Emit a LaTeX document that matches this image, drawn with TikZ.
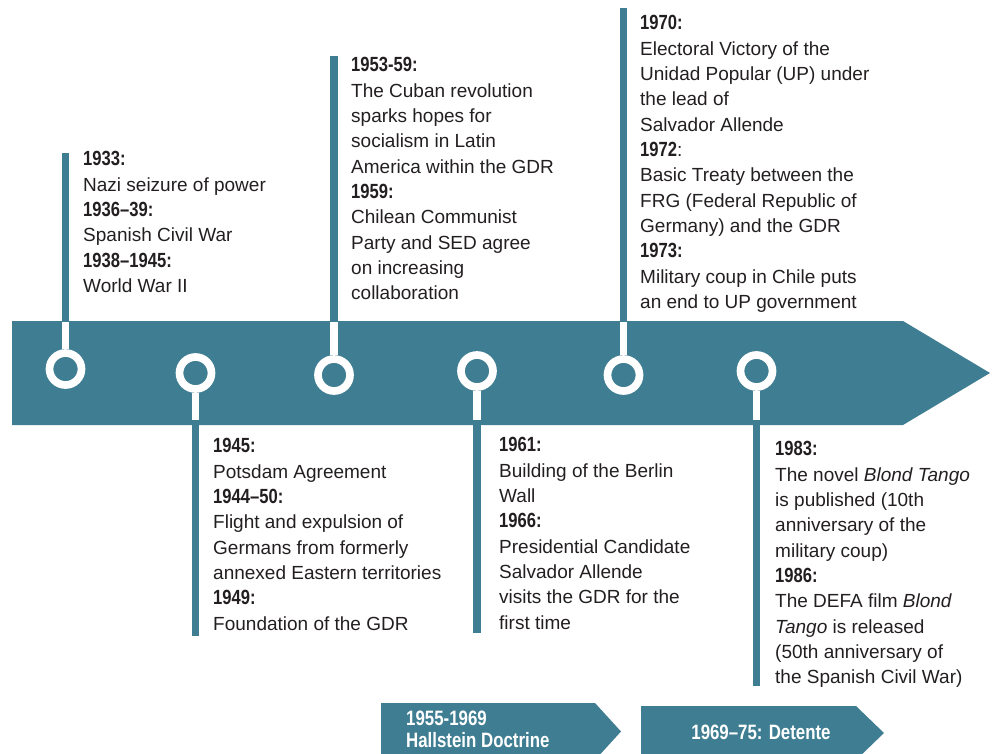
\documentclass[tikz,border=0pt]{standalone}
\usepackage{fontspec}
\setmainfont{Liberation Sans}[BoldFeatures={FakeStretch=0.81}]
\definecolor{teal1}{RGB}{63,126,146}
\definecolor{ink}{RGB}{35,31,32}
\newcommand\yr[1]{{\fontsize{20.5}{25.35}\selectfont\bfseries #1}}
\begin{document}
\begin{tikzpicture}[x=1pt,y=-1pt,
  txt/.style={anchor=north west, inner sep=0pt, align=left, text=ink, font=\fontsize{19}{25.35}\selectfont},
  wtxt/.style={inner sep=0pt, align=left, text=white, font=\bfseries\fontsize{20.8}{22}\selectfont},
  stem/.style={draw=teal1, line width=7.5pt},
  wstem/.style={draw=white, line width=7.5pt},
  ring/.style={circle, draw=white, line width=7.7pt, minimum size=32pt, inner sep=0pt},
  band/.style={fill=teal1}
]
\useasboundingbox (0,0) rectangle (996,754);
\clip (0,0) rectangle (996,754);

% main band
\fill[band] (12,321) -- (903,321) -- (990,373) -- (903,425) -- (12,425) -- cycle;

% rings
\node[ring] (c1) at (65.5,369) {};
\node[ring] (c2) at (195.5,373) {};
\node[ring] (c3) at (334,375) {};
\node[ring] (c4) at (477,371) {};
\node[ring] (c5) at (623.5,375) {};
\node[ring] (c6) at (756.5,371) {};

% stem ends
\coordinate (t1) at (65.5,153);
\coordinate (t2) at (195.5,636);
\coordinate (t3) at (334,56);
\coordinate (t4) at (477,633);
\coordinate (t5) at (623.5,8);
\coordinate (t6) at (756.5,686);
\coordinate (btop) at (0,322);
\coordinate (bbot) at (0,420);
\coordinate (bbot2) at (0,425);
\coordinate (btop2) at (0,321);

% teal stems outside the band
\draw[stem] (t1) -- (t1 |- btop2);
\draw[stem] (t3) -- (t3 |- btop2);
\draw[stem] (t5) -- (t5 |- btop2);
\draw[stem] (t2) -- (t2 |- bbot2);
\draw[stem] (t4) -- (t4 |- bbot2);
\draw[stem] (t6) -- (t6 |- bbot2);

% white stems inside the band
\draw[wstem] (c1.north) -- (c1.north |- btop);
\draw[wstem] (c3.north) -- (c3.north |- btop);
\draw[wstem] (c5.north) -- (c5.north |- btop);
\draw[wstem] (c2.south) -- (c2.south |- bbot);
\draw[wstem] (c4.south) -- (c4.south |- bbot);
\draw[wstem] (c6.south) -- (c6.south |- bbot);

% text blocks
\node[txt] (b1) at (83,151.3) {\yr{1933:}\\Nazi seizure of power\\\yr{1936–39:}\\Spanish Civil War\\\yr{1938–1945:}\\World War II};

\node[txt] (b2) at (213,438.3) {\yr{1945:}\\Potsdam Agreement\\\yr{1944–50:}\\Flight and expulsion of\\Germans from formerly\\annexed Eastern territories\\\yr{1949:}\\Foundation of the GDR};

\node[txt] (b3) at (351,57.3) {\yr{1953-59:}\\The Cuban revolution\\sparks hopes for\\socialism in Latin\\America within the GDR\\\yr{1959:}\\Chilean Communist\\Party and SED agree\\on increasing\\collaboration};

\node[txt] (b4) at (499,437.3) {\yr{1961:}\\Building of the Berlin\\Wall\\\yr{1966:}\\Presidential Candidate\\Salvador Allende\\visits the GDR for the\\first time};

\node[txt] (b5) at (640,15.3) {\yr{1970:}\\Electoral Victory of the\\Unidad Popular (UP) under\\the lead of\\Salvador Allende\\\yr{1972}:\\Basic Treaty between the\\FRG (Federal Republic of\\Germany) and the GDR\\\yr{1973:}\\Military coup in Chile puts\\an end to UP government};

\node[txt] (b6) at (775,441.3) {\yr{1983:}\\The novel \textit{Blond Tango}\\is published (10th\\anniversary of the\\military coup)\\\yr{1986:}\\The DEFA film \textit{Blond}\\\textit{Tango} is released\\(50th anniversary of\\the Spanish Civil War)};

% bottom arrows
\fill[band] (381,703) -- (595,703) -- (621,731.5) -- (595,760) -- (381,760) -- cycle;
\fill[band] (641,706) -- (856,706) -- (884,733) -- (856,760) -- (641,760) -- cycle;
\node[wtxt, anchor=north west] (pa) at (406,711) {1955-1969\\Hallstein Doctrine};
\node[wtxt, anchor=north] (pb) at (761,725) {1969–75: Detente};
\end{tikzpicture}
\end{document}
